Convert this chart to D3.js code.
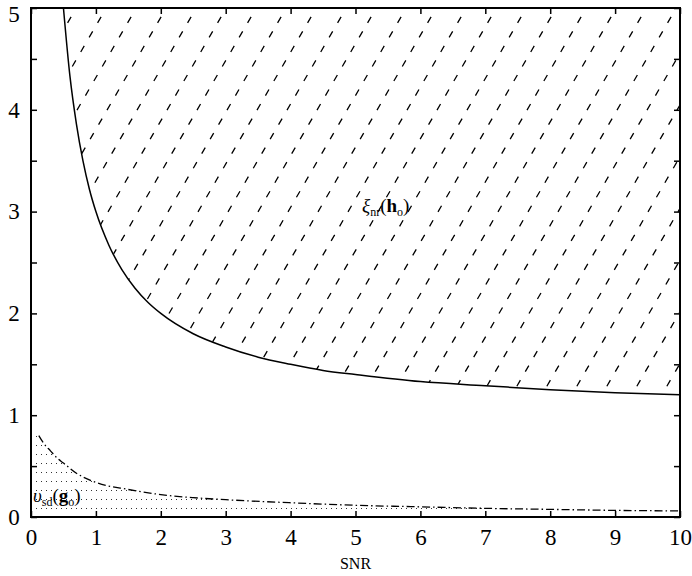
<!DOCTYPE html>
<html><head><meta charset="utf-8">
<script src="https://cdn.jsdelivr.net/npm/d3@7"></script>
<style>body{margin:0;background:#fff}svg{display:block}svg text{font-family:"Liberation Serif","Times New Roman","DejaVu Serif",serif}</style>
</head><body>
<script>
// values
const snrXi = [0.5,0.6,0.7,0.8,0.9,1,1.2,1.4,1.6,1.8,2,2.5,3,3.5,4,4.5,5,6,7,8,9,10];
const xiValues = [5,4.33,3.86,3.5,3.22,3.0,2.67,2.43,2.25,2.11,2.0,1.8,1.67,1.57,1.5,1.44,1.4,1.33,1.29,1.25,1.22,1.2];
const snrUps = [0,0.12,0.2,0.3,0.4,0.5,0.7,1,1.5,2,2.5,3,4,5,6,7,8,9,10];
const upsValues = [0.85,0.8,0.72,0.65,0.58,0.53,0.43,0.34,0.27,0.22,0.19,0.17,0.14,0.115,0.1,0.085,0.075,0.065,0.06];
const xTicks = [0,1,2,3,4,5,6,7,8,9,10];
const yTicks = [0,1,2,3,4,5];
const yMinor = [0,0.5,1,1.5,2,2.5,3,3.5,4,4.5,5];

const W=692,H=576, L=31, R=680, T=8, B=517;
const svg=d3.select("body").append("svg").attr("width",W).attr("height",H);
const x=d3.scaleLinear().domain([0,10]).range([L,R]);
const y=d3.scaleLinear().domain([0,5]).range([B,T]);
const defs=svg.append("defs");

// clip for hatch region (above xi curve)
const hatchPts=snrXi.map((s,i)=>[x(s),y(xiValues[i])]);
hatchPts.push([x(10),y(5)]);
defs.append("clipPath").attr("id","hc").append("polygon").attr("points",hatchPts.map(p=>p.join(",")).join(" "));

// hatch lines
const hg=svg.append("g").attr("clip-path","url(#hc)");
const dxPerDy=0.58, spacing=30;
for(let x0=L-400;x0<R+50;x0+=spacing){
  hg.append("line").attr("x1",x0).attr("y1",B).attr("x2",x0+dxPerDy*(B-T)).attr("y2",T)
    .attr("stroke","#000").attr("stroke-width",1.3).attr("stroke-dasharray","7,9.8");
}

// dotted region under upsilon curve
const pat=defs.append("pattern").attr("id","dots").attr("patternUnits","userSpaceOnUse")
  .attr("width",5).attr("height",9);
pat.append("rect").attr("x",1).attr("y",4).attr("width",1).attr("height",1).attr("fill","#333");
const area=d3.area().x((d,i)=>x(snrUps[i])).y0(y(0)).y1((d,i)=>y(upsValues[i]));
svg.append("path").attr("d",area(upsValues)).attr("fill","url(#dots)");

// curves
const lineXi=d3.line().x((d,i)=>x(snrXi[i])).y((d,i)=>y(xiValues[i])).curve(d3.curveMonotoneX);
svg.append("path").attr("d",lineXi(xiValues)).attr("fill","none").attr("stroke","#000").attr("stroke-width",1.5);
const upsIdx=d3.range(1,snrUps.length);
const lineUps=d3.line().x(i=>x(snrUps[i])).y(i=>y(upsValues[i])).curve(d3.curveMonotoneX);
svg.append("path").attr("d",lineUps(upsIdx)).attr("fill","none").attr("stroke","#000").attr("stroke-width",1.3)
  .attr("stroke-dasharray","8,3,1.5,3");

// frame
svg.append("rect").attr("x",L).attr("y",T).attr("width",R-L).attr("height",B-T)
  .attr("fill","none").attr("stroke","#000").attr("stroke-width",2);

// axes with inward ticks
const gx=svg.append("g").attr("transform",`translate(0,${B})`)
  .call(d3.axisBottom(x).tickValues(xTicks).tickSizeInner(-6).tickSizeOuter(0).tickPadding(12).tickFormat(d3.format("d")));
const gxt=svg.append("g").attr("transform",`translate(0,${T})`)
  .call(d3.axisTop(x).tickValues(xTicks).tickSizeInner(-6).tickSizeOuter(0).tickFormat(""));
const gy=svg.append("g").attr("transform",`translate(${L},0)`)
  .call(d3.axisLeft(y).tickValues(yMinor).tickSizeInner(-6).tickSizeOuter(0).tickPadding(12)
    .tickFormat(d=>yTicks.includes(d)?d3.format("d")(d):""));
const gyr=svg.append("g").attr("transform",`translate(${R},0)`)
  .call(d3.axisRight(y).tickValues(yMinor).tickSizeInner(-6).tickSizeOuter(0).tickFormat(""));
[gx,gxt,gy,gyr].forEach(g=>{g.attr("font-family",null);g.select(".domain").remove();g.selectAll("line").attr("stroke","#000").attr("stroke-width",1.5);
  g.selectAll("text").attr("font-size",23).attr("fill","#000");});
gy.selectAll("text").attr("text-anchor","middle").attr("x",-17);
gy.selectAll(".tick").filter(d=>d===5).select("text").attr("dy","0.6em");

svg.append("text").attr("x",x(5)).attr("y",569).attr("text-anchor","middle")
  .attr("font-size",16).text("SNR");

// labels
const t1=svg.append("text").attr("x",362).attr("y",212).attr("font-size",19);
t1.append("tspan").attr("font-style","italic").text("ξ");
t1.append("tspan").attr("font-size",12).attr("dy",4).text("nr");
t1.append("tspan").attr("dy",-4).text("(");
t1.append("tspan").attr("font-weight","bold").text("h");
t1.append("tspan").attr("font-size",12).attr("dy",4).text("o");
t1.append("tspan").attr("dy",-4).text(")");

const t2=svg.append("text").attr("x",33).attr("y",502).attr("font-size",19);
t2.append("tspan").attr("font-style","italic").text("υ");
t2.append("tspan").attr("font-size",12).attr("dy",4).text("sd");
t2.append("tspan").attr("dy",-4).text("(");
t2.append("tspan").attr("font-weight","bold").text("g");
t2.append("tspan").attr("font-size",12).attr("dy",4).text("o");
t2.append("tspan").attr("dy",-4).text(")");
</script>
</body></html>
